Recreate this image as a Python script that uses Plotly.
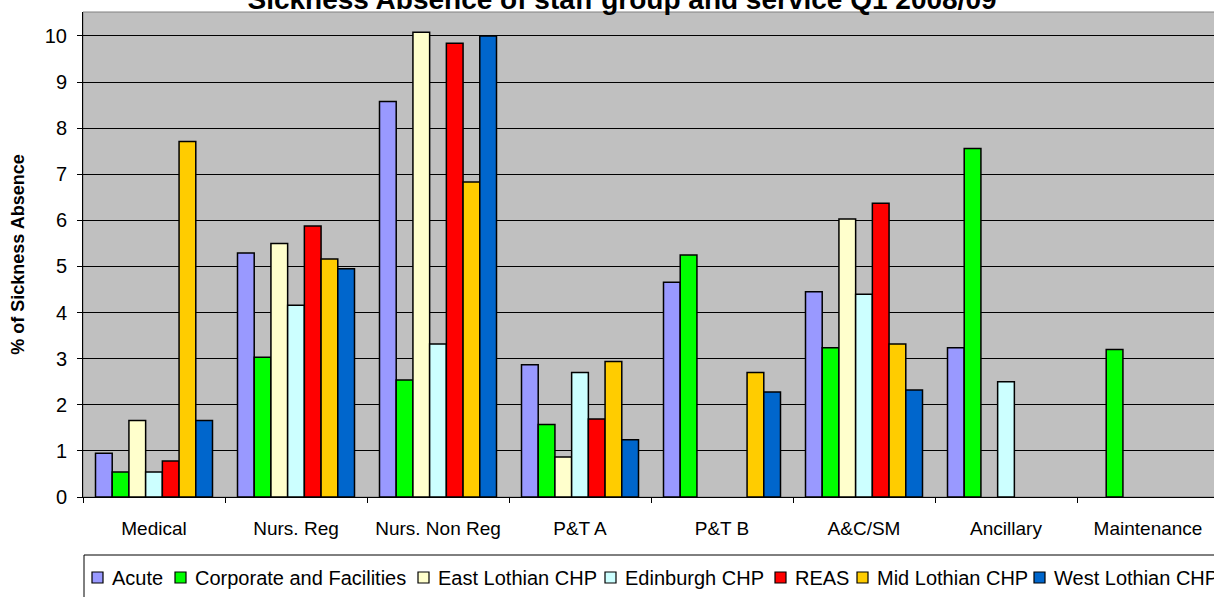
import plotly.graph_objects as go

# Staff groups (x categories)
staff_groups = ["Medical", "Nurs. Reg", "Nurs. Non Reg", "P&T A", "P&T B",
                "A&C/SM", "Ancillary", "Maintenance"]

# % sickness absence per service, one list per service (None = no value)
acute = [0.95, 5.29, 8.58, 2.87, 4.66, 4.45, 3.24, None]
corporate = [0.54, 3.03, 2.54, 1.57, 5.25, 3.24, 7.56, 3.20]
east_lothian = [1.66, 5.50, 10.08, 0.87, None, 6.03, None, None]
edinburgh = [0.54, 4.16, 3.32, 2.70, None, 4.40, 2.50, None]
reas = [0.78, 5.88, 9.84, 1.69, None, 6.37, None, None]
mid_lothian = [7.71, 5.16, 6.83, 2.94, 2.70, 3.32, None, None]
west_lothian = [1.66, 4.95, 10.00, 1.24, 2.28, 2.32, None, None]

services = ["Acute", "Corporate and Facilities", "East Lothian CHP",
            "Edinburgh CHP", "REAS", "Mid Lothian CHP", "West Lothian CHP"]
series = [acute, corporate, east_lothian, edinburgh, reas, mid_lothian, west_lothian]
colors = ["#9999FF", "#00FF00", "#FFFFCC", "#CCFFFF", "#FF0000", "#FFCC00", "#0066CC"]

FONT = "Liberation Sans, Arial, sans-serif"
W, H = 1214, 597
ML, MT, MB = 83, 12, 100
PLOT_W = W - ML
PLOT_H = H - MT - MB


def px_x(p):
    """Pixel x -> paper x."""
    return (p - ML) / PLOT_W


def px_y(p):
    """Pixel y (from top) -> paper y."""
    return (H - MB - p) / PLOT_H


fig = go.Figure()
for name, vals, col in zip(services, series, colors):
    fig.add_trace(go.Bar(
        name=name, x=staff_groups, y=vals,
        marker=dict(color=col, line=dict(color="#000000", width=1.5)),
    ))

# Legend row drawn as a boxed strip below the axis
legend_sq_x = [92, 175, 418, 605, 775, 857, 1034]
shapes = [
    dict(type="rect", xref="paper", yref="paper",
         x0=px_x(84), x1=px_x(1300), y0=px_y(555), y1=px_y(640),
         line=dict(color="#000000", width=1), fillcolor="rgba(0,0,0,0)"),
    # plot area frame
    dict(type="rect", xref="paper", yref="paper", x0=0, x1=1.01, y0=0, y1=1,
         line=dict(color="#808080", width=1), fillcolor="rgba(0,0,0,0)",
         layer="below"),
]
annotations = []
for sx, name, col in zip(legend_sq_x, services, colors):
    shapes.append(dict(type="rect", xref="paper", yref="paper",
                       x0=px_x(sx), x1=px_x(sx + 11), y0=px_y(583), y1=px_y(572),
                       line=dict(color="#000000", width=1.2), fillcolor=col))
    annotations.append(dict(text=name, xref="paper", yref="paper",
                            x=px_x(sx + 18), y=px_y(577.5), xanchor="left",
                            yanchor="middle", showarrow=False,
                            font=dict(family=FONT, size=20, color="#000000")))

fig.update_layout(
    width=W, height=H, autosize=False,
    margin=dict(l=ML, r=0, t=MT, b=MB, pad=0),
    paper_bgcolor="#FFFFFF", plot_bgcolor="#C0C0C0",
    barmode="group", bargap=0.176, bargroupgap=0,
    showlegend=False,
    font=dict(family=FONT, size=20, color="#000000"),
    title=dict(text="<b>Sickness Absence of staff group and service Q1 2008/09</b>",
               xref="container", yref="container", x=622 / W, xanchor="center",
               y=1 - 9 / H, yanchor="bottom",
               font=dict(family=FONT, size=28, color="#000000")),
    xaxis=dict(type="category", range=[-0.5, 7.5 - 5 / 142],
               tickson="boundaries", ticks="outside", ticklen=5,
               tickcolor="#000000", tickwidth=1,
               showline=True, linecolor="#000000", linewidth=1,
               showgrid=False, ticklabelstandoff=14,
               tickfont=dict(family=FONT, size=19, color="#000000")),
    yaxis=dict(range=[0, 10.52], tickmode="array", tickvals=list(range(11)),
               ticks="outside", ticklen=5, tickcolor="#000000", tickwidth=1,
               showline=True, linecolor="#000000", linewidth=1,
               showgrid=True, gridcolor="#000000", gridwidth=1,
               zeroline=False, ticklabelstandoff=6,
               tickfont=dict(family=FONT, size=20, color="#000000"),
               title=dict(text="<b>% of Sickness Absence</b>", standoff=15,
                          font=dict(family=FONT, size=18, color="#000000"))),
    shapes=shapes,
    annotations=annotations,
)

fig.write_html("out.html")
